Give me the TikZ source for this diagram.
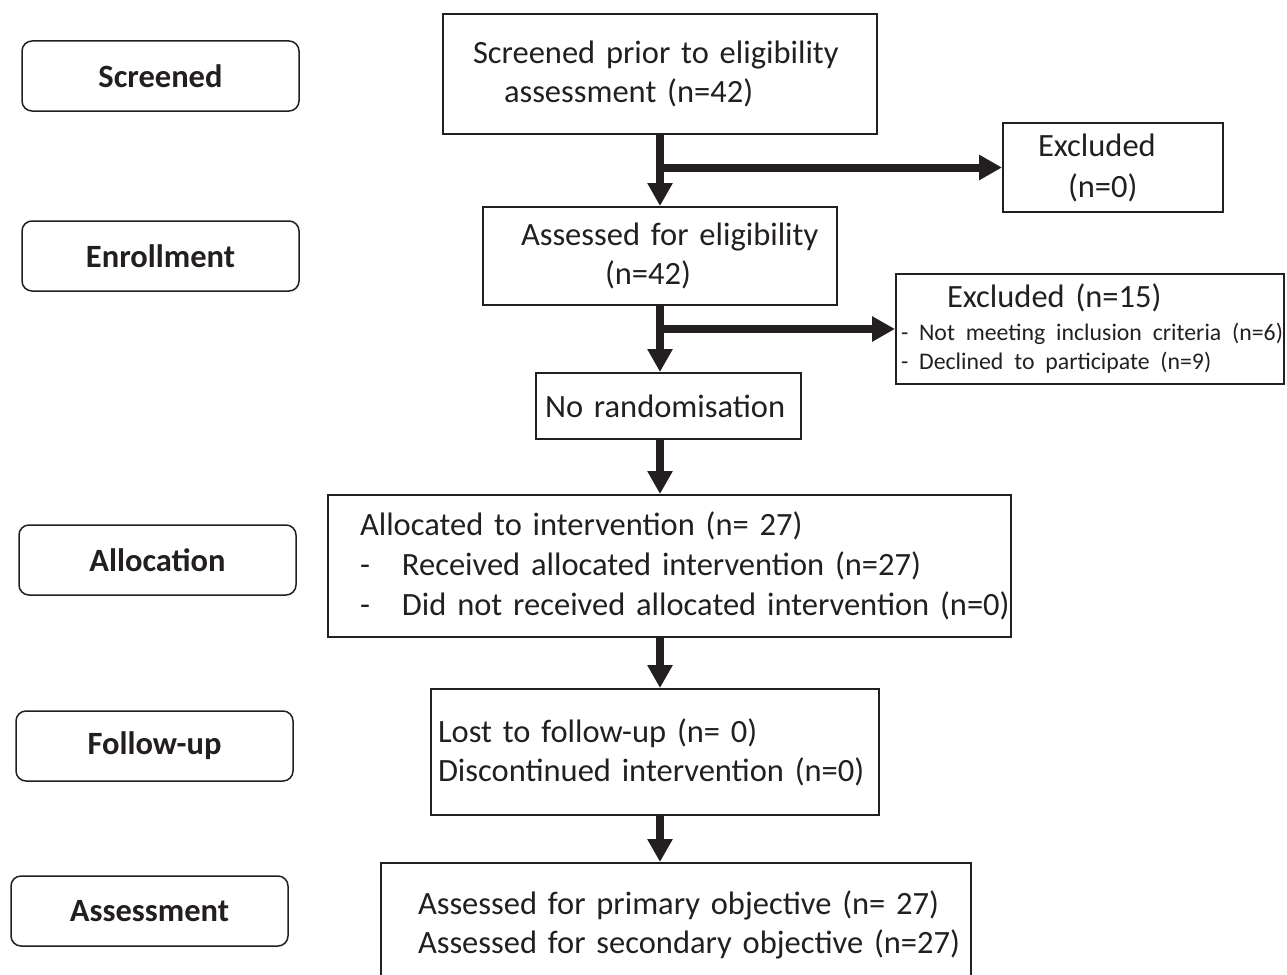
\documentclass[tikz,border=0pt]{standalone}
\usepackage{fontspec}
\setmainfont{Carlito}
\usepackage{tikz}
\usetikzlibrary{arrows.meta}
\definecolor{ink}{RGB}{35,31,32}
\setlength{\parindent}{0pt}

\begin{document}
\begin{tikzpicture}[x=1pt, y=-1pt,
        main/.style = {draw=ink, text=ink, line width=2pt, inner sep=0pt, align=left,
                       font=\fontsize{32.5}{39}\selectfont},
        stage/.style = {draw=ink, text=ink, line width=1.5pt, rounded corners=10pt,
                        minimum width=277pt, minimum height=70pt,
                        font=\fontsize{32.5}{39}\selectfont\bfseries},
        flow/.style = {color=ink, line width=8pt, -{Triangle[width=24pt, length=23pt]}}]
            \useasboundingbox (0,0) rectangle (1287,974);

            % stages
            \node[stage] (Screened) at (160.5,76) {Screened};
            \node[stage] (Enrollment) at (160.5,256) {Enrollment};
            \node[stage] (Allocation) at (157.5,560) {Allocation};
            \node[stage] (Followup) at (154.5,746) {Follow-up};
            \node[stage] (Assessment) at (149.5,911) {Assessment};

            % flow boxes
            \node[main, text width=434pt, minimum height=120pt] (screen) at (660,74)
                {\hspace*{30pt}Screened prior to eligibility\\\hspace*{61pt}assessment (n=42)};
            \node[main, text width=220pt, minimum height=89pt] (excl0) at (1113,167.5)
                {\hspace*{35pt}Excluded\\[2pt]\hspace*{65pt}(n=0)};
            \node[main, text width=354pt, minimum height=98pt] (elig) at (660,256)
                {\hspace*{38pt}Assessed for eligibility\\\hspace*{122pt}(n=42)};
            \node[main, text width=388pt, minimum height=110pt] (excl15) at (1090,329)
                {\hspace*{51pt}Excluded (n=15)\par
                 \fontsize{23.8}{29}\selectfont\vspace{4pt}
                 \mbox{\hspace*{5pt}- Not meeting inclusion criteria (n=6)}\\
                 \hspace*{5pt}- Declined to participate (n=9)\par};
            \node[main, text width=265pt, minimum height=66pt] (norand) at (668.5,406)
                {\hspace*{9pt}No randomisation};
            \node[main, text width=683pt, minimum height=142pt] (alloc) at (669.5,566)
                {\hspace*{32pt}Allocated to intervention (n= 27)\\[1pt]
                 \hspace*{32pt}\makebox[42pt][l]{-}Received allocated intervention (n=27)\\[1pt]
                 \mbox{\hspace*{32pt}\makebox[42pt][l]{-}Did not received allocated intervention (n=0)}};
            \node[main, text width=448pt, minimum height=126pt] (lost) at (655,752)
                {\hspace*{7pt}Lost to follow-up (n= 0)\\\hspace*{7pt}Discontinued intervention (n=0)};
            \node[main, text width=590pt, minimum height=124pt] (assess) at (676,925)
                {\hspace*{37pt}Assessed for primary objective (n= 27)\\
                 \mbox{\hspace*{37pt}Assessed for secondary objective (n=27)}};

            \path[flow] (screen) edge (elig);
            \path[flow] (screen.south |- excl0.west) edge (excl0.west);
            \path[flow] (elig.south) edge (elig.south |- norand.north);
            \path[flow] (elig.south |- excl15.west) edge (excl15.west);
            \path[flow] (elig.south |- norand.south) edge (elig.south |- alloc.north);
            \path[flow] (elig.south |- alloc.south) edge (elig.south |- lost.north);
            \path[flow] (elig.south |- lost.south) edge (elig.south |- assess.north);
        \end{tikzpicture}
\end{document}
